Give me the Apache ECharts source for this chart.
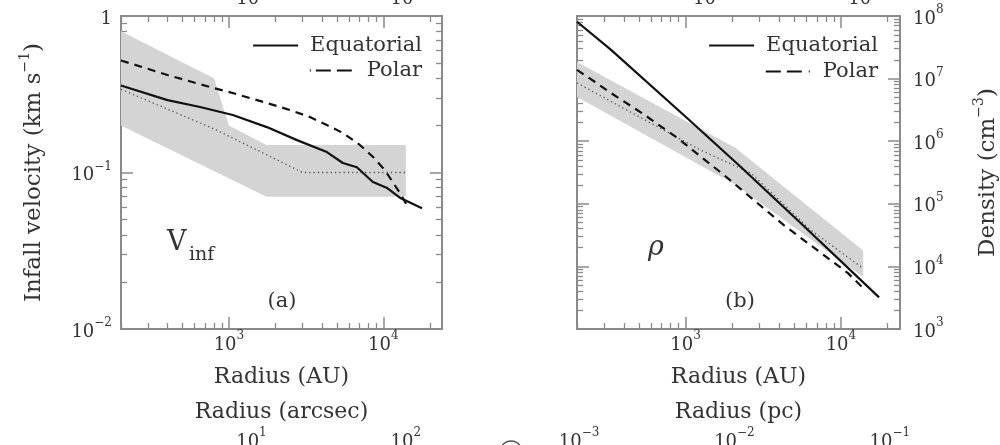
<!DOCTYPE html>
<html>
<head>
<meta charset="utf-8">
<script src="https://cdn.jsdelivr.net/npm/echarts@6/dist/echarts.min.js"></script>
<style>
  html, body { margin: 0; padding: 0; background: #fff; }
  #chart { width: 1000px; height: 445px; }
</style>
</head>
<body>
<div id="chart"></div>
<script>
// ---- (a) infall velocity profiles, radius in AU, velocity in km/s ----
const eqVelR   = [200, 400, 650, 1060, 1760, 2760, 4310, 5470, 6740, 8560, 10500, 12800, 17800];
const eqVel    = [0.36, 0.29, 0.262, 0.233, 0.195, 0.161, 0.135, 0.115, 0.108, 0.087, 0.08, 0.069, 0.059];
const polVelR  = [200, 400, 800, 970, 1760, 2480, 3350, 4310, 5470, 7050, 8560, 10200, 11500, 12800, 14200];
const polVel   = [0.52, 0.42, 0.346, 0.33, 0.278, 0.251, 0.226, 0.201, 0.179, 0.15, 0.126, 0.104, 0.087, 0.074, 0.062];
const initVelR = [200, 800, 1750, 3000, 14000];
const initVel  = [0.34, 0.19, 0.13, 0.1, 0.1];
const bandVelUpR = [200, 800, 1000, 1750, 14000];
const bandVelUp  = [0.8, 0.4, 0.2, 0.15, 0.15];
const bandVelLoR = [200, 1750, 14000];
const bandVelLo  = [0.2, 0.07, 0.07];

// ---- (b) density profiles, radius in AU, density in cm^-3 ----
const eqDenR   = [200, 330, 1030, 2260, 5520, 17600];
const eqDen    = [8.1e7, 2.9e7, 2.3e6, 3.9e5, 4.9e4, 3.2e3];
const polDenR  = [200, 260, 330, 525, 890, 1760, 4270, 11100, 13900];
const polDen   = [1.38e7, 8.9e6, 5.9e6, 2.8e6, 1.12e6, 2.9e5, 4.6e4, 7.8e3, 4.5e3];
const initDenR = [200, 1250, 2630, 6400, 13900];
const initDen  = [8.5e6, 7.2e5, 3.1e5, 3.8e4, 9.3e3];
const bandDenUpR = [200, 2100, 13900];
const bandDenUp  = [1.84e7, 7.8e5, 1.8e4];
const bandDenLoR = [200, 2100, 13900];
const bandDenLo  = [5.1e6, 2.0e5, 6.8e3];

// ---- axis ticks ----
const auTicks     = [1e2, 1e3, 1e4, 1e5];
const arcsecTicks = [1, 10, 100];
const pcTicks     = [1e-3, 1e-2, 1e-1];
const velTicks    = [0.01, 0.1, 1];
const denTicks    = [1e3, 1e4, 1e5, 1e6, 1e7, 1e8];
const rMin = 200, rMax = 24000;
const AU_PER_ARCSEC = 140;      // distance of 140 pc
const AU_PER_PC = 206265;

const FONT = 'DejaVu Serif';
const INK = '#333';
const FRAME = '#8a8a8a';
const BAND = '#d4d4d4';

function pairs(xs, ys) { return xs.map((x, i) => [x, ys[i]]); }

// 2..9 x 10^e for every decade in [lo, hi]
function minorTicks(lo, hi) {
  const out = [];
  for (let e = lo; e <= hi; e++) {
    for (let m = 2; m <= 9; m++) out.push(+(m * Math.pow(10, e)).toPrecision(3));
  }
  return out;
}

function powLabel(v) {
  const e = Math.round(Math.log10(v));
  if (e === 0) return '{b|1}';
  return '{b|10}{s|' + (e < 0 ? '\u2212' + (-e) : String(e)) + '}';
}

const labelRich = {
  b: { fontFamily: FONT, fontSize: 18, color: INK, lineHeight: 24, verticalAlign: 'bottom' },
  s: { fontFamily: FONT, fontSize: 12, color: INK, lineHeight: 12, verticalAlign: 'top' }
};
const nameRich = {
  t: { fontFamily: FONT, fontSize: 23, color: INK, lineHeight: 28, verticalAlign: 'bottom' },
  s: { fontFamily: FONT, fontSize: 14, color: INK, lineHeight: 14, verticalAlign: 'top' }
};
const titleStyle = { fontFamily: FONT, fontSize: 22, color: INK };

function baseAxis(extra) {
  return Object.assign({
    type: 'log', logBase: 10, silent: true,
    axisLine: { show: false, onZero: false },
    axisTick: { show: false },
    axisLabel: { show: false },
    splitLine: { show: false },
    minorTick: { show: false },
    minorSplitLine: { show: false },
    axisPointer: { show: false }
  }, extra);
}

function frameAxis(extra, ticks, len) {
  return baseAxis(Object.assign({
    axisLine: { show: true, onZero: false, lineStyle: { color: FRAME, width: 2 } },
    axisTick: { show: true, inside: true, length: len, customValues: ticks, lineStyle: { color: FRAME, width: 1.5 } }
  }, extra));
}

function tickAxis(extra, ticks, len) {
  return baseAxis(Object.assign({
    axisTick: { show: true, inside: true, length: len, customValues: ticks, lineStyle: { color: FRAME, width: 1.3 } }
  }, extra));
}

function labelOnly(extra, values, margin) {
  return baseAxis(Object.assign({
    axisLabel: { show: true, customValues: values, formatter: powLabel, rich: labelRich, margin: margin }
  }, extra));
}

const xMinor = minorTicks(2, 4);

function xAxesFor(g, secScale, secTicks, secName) {
  const ext = { gridIndex: g, min: rMin, max: rMax };
  const secExt = { gridIndex: g, min: rMin / secScale, max: rMax / secScale };
  const bottom = frameAxis(Object.assign({ position: 'bottom' }, ext), auTicks, 12);
  bottom.axisLabel = { show: true, customValues: auTicks, formatter: powLabel, rich: labelRich, margin: 1 };
  bottom.name = 'Radius (AU)';
  bottom.nameLocation = 'middle';
  bottom.nameGap = 37;
  bottom.nameTextStyle = titleStyle;
  // second radius scale: title line, then its tick labels further down
  const secTitle = baseAxis(Object.assign({ position: 'bottom', offset: 64, name: secName,
    nameLocation: 'middle', nameGap: 8, nameTextStyle: titleStyle }, secExt));
  const sec = labelOnly(Object.assign({ position: 'bottom', offset: 97 }, secExt), secTicks, 1);
  return [
    bottom,
    tickAxis(Object.assign({ position: 'bottom' }, ext), xMinor, 6),
    frameAxis(Object.assign({ position: 'top' }, ext), auTicks, 12),
    tickAxis(Object.assign({ position: 'top' }, ext), xMinor, 6),
    sec,
    labelOnly(Object.assign({ position: 'top' },
      { gridIndex: g, min: rMin / AU_PER_ARCSEC, max: rMax / AU_PER_ARCSEC }), arcsecTicks, 7.5),
    secTitle
  ];
}

function yAxesFor(g, min, max, ticks, minor, labelSide, name, nameGap) {
  const ext = { gridIndex: g, min: min, max: max };
  const left = frameAxis(Object.assign({ position: 'left' }, ext), ticks, 12);
  const right = frameAxis(Object.assign({ position: 'right' }, ext), ticks, 12);
  const lab = labelSide === 'left' ? left : right;
  lab.axisLabel = { show: true, customValues: ticks, formatter: powLabel, rich: labelRich,
                    margin: labelSide === 'left' ? 9 : 13 };
  lab.name = name;
  lab.nameLocation = 'middle';
  lab.nameGap = nameGap;
  lab.nameTextStyle = { rich: nameRich };
  return [
    left,
    tickAxis(Object.assign({ position: 'left' }, ext), minor, 6),
    right,
    tickAxis(Object.assign({ position: 'right' }, ext), minor, 6)
  ];
}

const X_PER_GRID = 7, Y_PER_GRID = 4;

function lineSeries(name, data, g, style) {
  return {
    type: 'line', name: name, data: data,
    xAxisIndex: g * X_PER_GRID, yAxisIndex: g * Y_PER_GRID,
    symbol: 'none', silent: true, clip: true, z: 3,
    itemStyle: { color: style.color },
    lineStyle: style
  };
}

// shaded range between an upper and a lower profile
function bandSeries(upper, lower, g) {
  return {
    type: 'custom', name: 'range', silent: true, z: 1, clip: true,
    xAxisIndex: g * X_PER_GRID, yAxisIndex: g * Y_PER_GRID,
    data: [[upper[0][0], upper[0][1]]],
    renderItem: function (params, api) {
      const pts = upper.concat(lower.slice().reverse()).map(p => api.coord(p));
      return { type: 'polygon', shape: { points: pts }, style: { fill: BAND, stroke: null } };
    }
  };
}

const solid = { color: '#111', width: 2.2, type: 'solid' };
const dashed = { color: '#111', width: 2.2, type: [8, 6] };
const dotted = { color: '#555', width: 1.3, type: [1.3, 3] };

function legendRow(name, right, top, dash) {
  const cfg = {
    data: [name], right: right, top: top, padding: 0,
    itemWidth: 45, itemHeight: 14, selectedMode: false,
    itemStyle: { opacity: 0 },
    textStyle: { fontFamily: FONT, fontSize: 21, color: INK, padding: [0, 0, 0, 7] }
  };
  if (dash) cfg.lineStyle = { type: dash };
  return cfg;
}

const chart = echarts.init(document.getElementById('chart'), null, { renderer: 'canvas' });

chart.setOption({
  animation: false,
  backgroundColor: '#fff',
  grid: [
    { left: 121, top: 16, width: 321, height: 313, containLabel: false, outerBoundsMode: 'none' },
    { left: 577, top: 16, width: 323, height: 313, containLabel: false, outerBoundsMode: 'none' }
  ],
  xAxis: [].concat(
    xAxesFor(0, AU_PER_ARCSEC, arcsecTicks, 'Radius (arcsec)'),
    xAxesFor(1, AU_PER_PC, pcTicks, 'Radius (pc)')
  ),
  yAxis: [].concat(
    yAxesFor(0, 0.01, 1, velTicks, minorTicks(-2, -1), 'left',
      '{t|Infall velocity (km s}{s|\u22121}{t|)}', 75),
    yAxesFor(1, 1e3, 1e8, denTicks, minorTicks(3, 7), 'right',
      '{t|Density (cm}{s|\u22123}{t|)}', 72)
  ),
  legend: [
    legendRow('Equatorial', 578, 35),
    legendRow('Polar', 578, 60, [1, 5, 15, 6, 15, 30]),
    legendRow('Equatorial', 122, 35),
    legendRow('Polar', 122, 61, [15, 6, 15, 7, 1, 30])
  ],
  series: [
    bandSeries(pairs(bandVelUpR, bandVelUp), pairs(bandVelLoR, bandVelLo), 0),
    lineSeries('Initial', pairs(initVelR, initVel), 0, dotted),
    lineSeries('Polar', pairs(polVelR, polVel), 0, dashed),
    lineSeries('Equatorial', pairs(eqVelR, eqVel), 0, solid),
    bandSeries(pairs(bandDenUpR, bandDenUp), pairs(bandDenLoR, bandDenLo), 1),
    lineSeries('Initial', pairs(initDenR, initDen), 1, dotted),
    lineSeries('Polar', pairs(polDenR, polDen), 1, dashed),
    lineSeries('Equatorial', pairs(eqDenR, eqDen), 1, solid)
  ],
  graphic: [
    { type: 'text', x: 167, y: 243, silent: true,
      style: { text: 'V', fontFamily: FONT, fontSize: 27, fill: INK, align: 'left', verticalAlign: 'middle' } },
    { type: 'text', x: 189, y: 255, silent: true,
      style: { text: 'inf', fontFamily: FONT, fontSize: 19, fill: INK, align: 'left', verticalAlign: 'middle' } },
    { type: 'text', x: 282, y: 302, silent: true,
      style: { text: '(a)', fontFamily: FONT, fontSize: 21, fill: INK, align: 'center', verticalAlign: 'middle' } },
    { type: 'text', x: 656, y: 248, silent: true,
      style: { text: '\u03C1', fontFamily: FONT, fontStyle: 'italic', fontSize: 27, fill: INK, align: 'center', verticalAlign: 'middle' } },
    { type: 'text', x: 740, y: 302, silent: true,
      style: { text: '(b)', fontFamily: FONT, fontSize: 21, fill: INK, align: 'center', verticalAlign: 'middle' } },
    { type: 'arc', silent: true,
      shape: { cx: 511, cy: 452, r: 11, startAngle: Math.PI * 1.15, endAngle: Math.PI * 1.85 },
      style: { stroke: '#555', fill: null, lineWidth: 1.5 } }
  ]
});
</script>
</body>
</html>
